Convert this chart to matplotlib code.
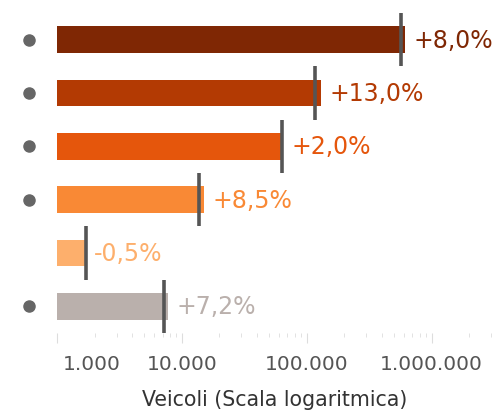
import matplotlib
matplotlib.use("Agg")
import matplotlib.pyplot as plt
import matplotlib.transforms as mtransforms
from matplotlib.ticker import LogLocator, NullFormatter

# dati
valori = [617000, 131000, 64600, 15000, 1700, 7700]       # anno corrente
precedenti = [571000, 116000, 63300, 13800, 1710, 7180]   # anno precedente (linea di riferimento)
variazioni = ["+8,0%", "+13,0%", "+2,0%", "+8,5%", "-0,5%", "+7,2%"]
con_punto = [True, True, True, True, False, True]
colori = ["#7F2704", "#B33A03", "#E5560C", "#F98935", "#FDAF6C", "#BAB0AC"]
tick_vals = [1e3, 1e4, 1e5, 1e6]
tick_labels = ["1.000", "10.000", "100.000", "1.000.000"]

fig = plt.figure(figsize=(4.93, 4.14), dpi=100)
ax = fig.add_axes([57 / 493, 80 / 414, 436 / 493, 320 / 414])

y = list(range(len(valori)))
ax.barh(y, valori, left=0, height=0.5, color=colori)
ax.set_xscale("log")
ax.set_xlim(1e3, 3.1e6)
ax.set_ylim(len(valori) - 0.5, -0.5)

# linee di riferimento (anno precedente)
for i, p in enumerate(precedenti):
    ax.plot([p, p], [i - 0.5, i + 0.5], color="#555555", lw=2.6, solid_capstyle="butt")

# etichette variazione
for i, (v, t, c) in enumerate(zip(valori, variazioni, colori)):
    ax.annotate(t, (v, i), xytext=(6, 0), textcoords="offset points",
                va="center", ha="left", fontsize=17, color=c)

# punti a sinistra
for i, ok in enumerate(con_punto):
    if ok:
        ax.plot([-0.064], [i], "o", color="#666666", markersize=8,
                transform=ax.get_yaxis_transform(), clip_on=False)

ax.set_xticks(tick_vals)
ax.set_xticklabels(tick_labels, fontsize=14.5, color="#555555")
ax.xaxis.set_minor_locator(LogLocator(base=10, subs=range(2, 10)))
ax.xaxis.set_minor_formatter(NullFormatter())
ax.tick_params(axis="x", which="major", length=7, color="#dddddd", pad=8)
ax.tick_params(axis="x", which="minor", length=3, color="#dddddd")
first = ax.get_xticklabels()[0]
first.set_ha("left")
first.set_transform(first.get_transform() +
                    mtransforms.ScaledTranslation(4 / 72, 0, fig.dpi_scale_trans))

ax.set_yticks([])
for s in ax.spines.values():
    s.set_visible(False)

ax.set_xlabel("Veicoli (Scala logaritmica)", fontsize=14.8, color="#333333", labelpad=12)

fig.savefig("out.png", dpi=100)
